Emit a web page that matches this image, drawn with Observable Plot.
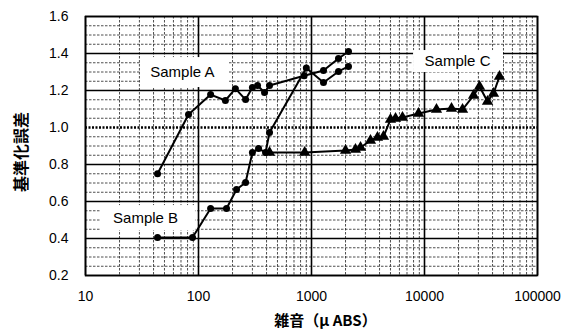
<!DOCTYPE html>
<html>
<head>
<meta charset="utf-8">
<script src="https://cdn.jsdelivr.net/npm/d3@7"></script>
<script src="https://cdn.jsdelivr.net/npm/@observablehq/plot@0.6"></script>
<style>
  html, body { margin: 0; padding: 0; background: white; }
</style>
</head>
<body>
<div id="chart"></div>
<script>
// ---- data ----
const sampleA_x = [43.4, 81.6, 128, 173, 212, 261, 300, 333, 384, 425, 860, 1277, 1733, 2125];
const sampleA_y = [0.75, 1.07, 1.178, 1.146, 1.21, 1.151, 1.216, 1.227, 1.189, 1.227, 1.28, 1.308, 1.373, 1.411];

const sampleB_x = [43.4, 88.5, 128, 177, 217, 261, 300, 340, 392, 425, 900, 1277, 1733, 2125];
const sampleB_y = [0.405, 0.405, 0.562, 0.562, 0.665, 0.703, 0.865, 0.886, 0.865, 0.973, 1.322, 1.243, 1.303, 1.33];

const sampleC_x = [425, 870, 2000, 2450, 2716, 3327, 3837, 4335, 5000, 5540, 6385, 8850, 12770, 17340, 21700, 27150, 30690, 36100, 40800, 46100];
const sampleC_y = [0.865, 0.865, 0.876, 0.881, 0.892, 0.93, 0.946, 0.951, 1.043, 1.049, 1.054, 1.076, 1.097, 1.103, 1.097, 1.173, 1.222, 1.141, 1.184, 1.276];

const xTicks = [10, 100, 1000, 10000, 100000];
const yTicks = [0.2, 0.4, 0.6, 0.8, 1.0, 1.2, 1.4, 1.6];

const labelNames = ["Sample A", "Sample B", "Sample C"];
const labelX = [72, 34, 19600];
const labelY = [1.297, 0.511, 1.356];
const boxX1 = [30.7, 13.6, 8000];
const boxX2 = [188, 94, 50000];
const boxY1 = [1.378, 0.578, 1.416];
const boxY2 = [1.216, 0.443, 1.297];

const xTitle = "雑音（μ ABS）";
const yTitle = "基準化誤差";

// ---- tables ----
const toRows = (xs, ys) => xs.map((x, i) => ({x, y: ys[i]}));
const A = toRows(sampleA_x, sampleA_y);
const B = toRows(sampleB_x, sampleB_y);
const C = toRows(sampleC_x, sampleC_y);
const labels = labelNames.map((t, i) => ({t, x: labelX[i], y: labelY[i], x1: boxX1[i], x2: boxX2[i], y1: boxY1[i], y2: boxY2[i]}));

// grid lines
const xMinor = [];
for (let k = 1; k < 5; k++) for (let m = 2; m <= 9; m++) xMinor.push(m * Math.pow(10, k));
const yMinor = [];
for (let i = 4; i <= 32; i++) { if (i % 4 !== 0) yMinor.push(i * 0.05); }
const yMajorSolid = yTicks.filter(v => Math.abs(v - 1.0) > 1e-9);

const font = "'Liberation Sans', Arial, sans-serif";
const cjk = "'Noto Sans CJK JP', sans-serif";

const chart = Plot.plot({
  width: 572,
  height: 329,
  marginLeft: 85,
  marginRight: 35,
  marginTop: 16,
  marginBottom: 54,
  x: {type: "log", domain: [10, 100000]},
  y: {domain: [0.2, 1.6]},
  style: {fontFamily: font, fontSize: "13px", color: "black", background: "white"},
  marks: [
    Plot.ruleX(xMinor, {stroke: "#222", strokeWidth: 0.8, strokeDasharray: "2.5,1.5"}),
    Plot.ruleY(yMinor, {stroke: "#222", strokeWidth: 0.8, strokeDasharray: "2.5,1.5"}),
    Plot.ruleX(xTicks, {stroke: "black", strokeWidth: 1.6}),
    Plot.ruleY(yMajorSolid, {stroke: "black", strokeWidth: 1.6}),
    Plot.ruleY([1.0], {stroke: "black", strokeWidth: 2.4, strokeDasharray: "2,1.5"}),
    Plot.rect(labels, {x1: "x1", x2: "x2", y1: "y1", y2: "y2", fill: "white"}),
    Plot.text(labels, {x: "x", y: "y", text: "t", fontSize: 15, fill: "black"}),
    Plot.line(A, {x: "x", y: "y", stroke: "black", strokeWidth: 2}),
    Plot.line(B, {x: "x", y: "y", stroke: "black", strokeWidth: 2}),
    Plot.line(C, {x: "x", y: "y", stroke: "black", strokeWidth: 2}),
    Plot.dot(A, {x: "x", y: "y", r: 3.5, fill: "black", stroke: "none"}),
    Plot.dot(B, {x: "x", y: "y", r: 3.5, fill: "black", stroke: "none"}),
    Plot.dot(C, {x: "x", y: "y", r: 4.2, symbol: "triangle", fill: "black", stroke: "none"}),
    Plot.frame({stroke: "black", strokeWidth: 1.6}),
    Plot.axisX({ticks: xTicks, tickSize: 0, tickPadding: 16, tickFormat: d => String(d), label: null, fontSize: 14}),
    Plot.axisY({ticks: yTicks, tickSize: 0, tickPadding: 17, tickFormat: d3.format(".1f"), label: null, fontSize: 14}),
    Plot.text([yTitle], {frameAnchor: "left", textAnchor: "middle", dx: -64, dy: 6, rotate: -90, fontSize: 16, fontWeight: "bold", fontFamily: cjk, fill: "black"}),
    Plot.text([xTitle], {frameAnchor: "bottom", textAnchor: "middle", dx: 14, dy: 50, fontSize: 15, fontWeight: "bold", fontFamily: cjk, fill: "black"})
  ]
});
document.getElementById("chart").appendChild(chart);
</script>
</body>
</html>
